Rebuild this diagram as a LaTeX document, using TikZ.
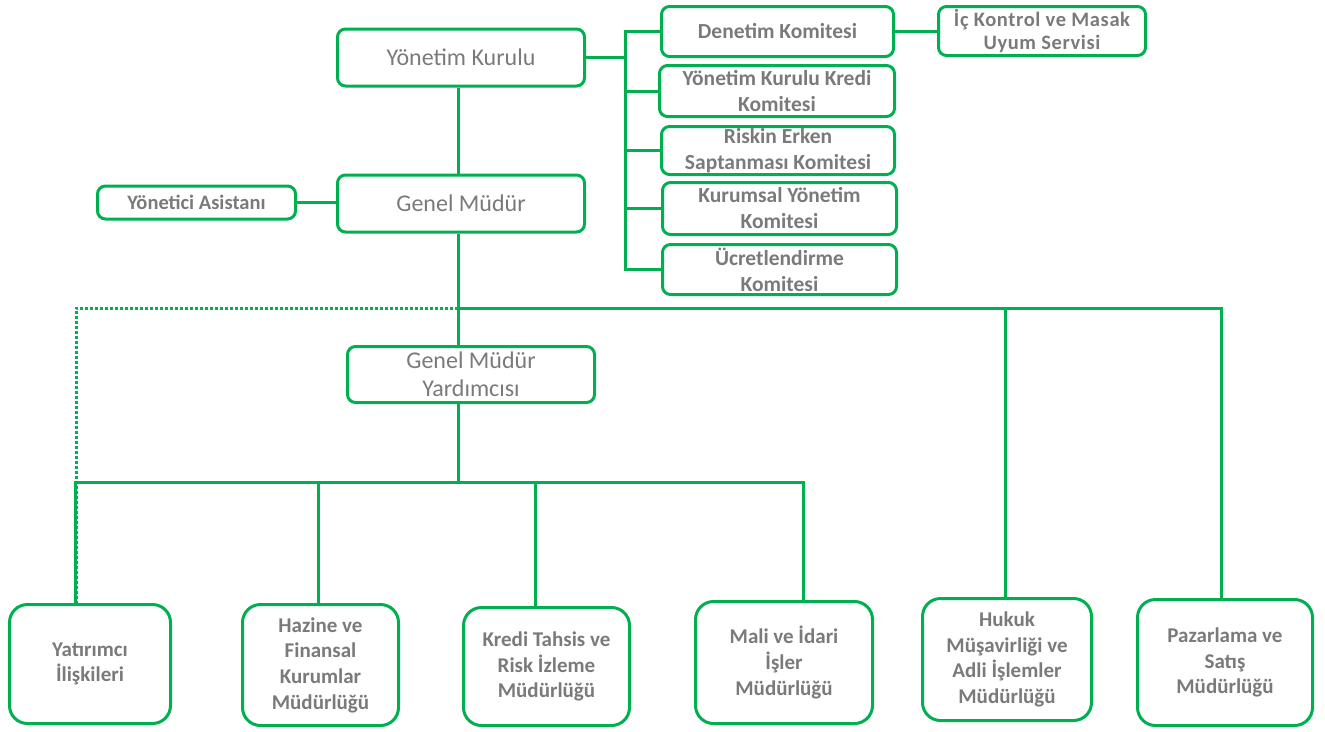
\documentclass[tikz,border=0pt]{standalone}
\usepackage{fontspec}
\setmainfont{Carlito}
\definecolor{orggreen}{RGB}{0,176,80}
\definecolor{orggray}{RGB}{122,122,122}
\tikzset{
  unit/.style={draw=orggreen, line width=3pt, rounded corners=8pt, align=center,
    text=orggray, inner sep=0pt},
  bigtxt/.style={font=\fontsize{24}{28}\selectfont},
  comtxt/.style={font=\fontsize{21.5}{26}\selectfont\bfseries},
  lowtxt/.style={font=\fontsize{21}{25.7}\selectfont\bfseries, rounded corners=18pt},
  link/.style={draw=orggreen, line width=3pt}
}
\begin{document}
\begin{tikzpicture}[x=1pt, y=-1pt]
  \useasboundingbox (0,0) rectangle (1325,731);
  % board and its committees
  \node[unit,bigtxt,minimum width=247,minimum height=57] (board) at (461,57.5) {Yönetim Kurulu};
  \node[unit,comtxt,minimum width=232,minimum height=50] (audit) at (777.5,31.5) {Denetim Komitesi};
  \node[unit,comtxt,minimum width=235,minimum height=51] (credit) at (777,91) {Yönetim Kurulu Kredi\\Komitesi};
  \node[unit,comtxt,minimum width=233,minimum height=48] (risk) at (778,150.5) {Riskin Erken\\Saptanması Komitesi};
  \node[unit,comtxt,minimum width=234,minimum height=52] (govern) at (779.5,208.5) {Kurumsal Yönetim\\Komitesi};
  \node[unit,comtxt,minimum width=234,minimum height=50] (wage) at (779.5,269.5) {Ücretlendirme\\Komitesi};
  \node[unit,font=\fontsize{20.5}{23.5}\selectfont\bfseries\addfontfeatures{LetterSpace=3},minimum width=207,minimum height=49] (control) at (1042,31) {İç Kontrol ve Masak\\Uyum Servisi};
  % management
  \node[unit,bigtxt,minimum width=247,minimum height=57] (ceo) at (461,203.5) {Genel Müdür};
  \node[unit,font=\fontsize{20.5}{24}\selectfont\bfseries,minimum width=198,minimum height=33] (assist) at (196.5,202.5) {Yönetici Asistanı};
  \node[unit,bigtxt,minimum width=247,minimum height=56] (deputy) at (471,374.5) {Genel Müdür\\Yardımcısı};
  % departments
  \node[unit,lowtxt,minimum width=161,minimum height=119] (investor) at (90,664) {Yatırımcı\\İlişkileri};
  \node[unit,lowtxt,minimum width=156,minimum height=121] (treasury) at (320.5,665) {Hazine ve\\Finansal\\Kurumlar\\Müdürlüğü};
  \node[unit,lowtxt,minimum width=166,minimum height=118] (loans) at (546.5,666.5) {Kredi Tahsis ve\\Risk İzleme\\Müdürlüğü};
  \node[unit,lowtxt,minimum width=177,minimum height=122] (admin) at (784,662.5) {Mali ve İdari\\İşler\\Müdürlüğü};
  \node[unit,lowtxt,minimum width=169,minimum height=122] (legal) at (1007,659.5) {Hukuk\\Müşavirliği ve\\Adli İşlemler\\Müdürlüğü};
  \node[unit,lowtxt,minimum width=175,minimum height=126] (sales) at (1225,662.5) {Pazarlama ve\\Satış\\Müdürlüğü};

  % connectors
  \draw[link] (board.east) -- ++(39,0) coordinate (cbus);
  \foreach \c in {audit,credit,risk,govern,wage}
    \draw[link] (cbus) |- (\c.west);
  \draw[link] (audit.east) -- (audit.east -| control.west);
  \draw[link] ([xshift=-3pt]board.south) -- ([xshift=-3pt]ceo.north);
  \draw[link] (assist.east) -- (assist.east -| ceo.west);
  \coordinate (ubus) at (458,308);
  \coordinate (lbus) at (458,482);
  \draw[link] ([xshift=-3pt]ceo.south) -- (ceo.south -| ubus) -- (deputy.north -| ubus);
  \draw[link] (ubus) -| ([xshift=-2pt]legal.north);
  \draw[link] (ubus) -| ([xshift=-4pt]sales.north);
  \draw[link,dotted] (ubus) -| ([xshift=-14pt]investor.north);
  \draw[link] (deputy.south -| lbus) -- (lbus);
  \draw[link] (lbus) -| ([xshift=-15pt]investor.north);
  \draw[link] (lbus) -| ([xshift=-2pt]treasury.north);
  \draw[link] (lbus) -| ([xshift=-11pt]loans.north);
  \draw[link] (lbus) -| ([xshift=19pt]admin.north);
\end{tikzpicture}
\end{document}
